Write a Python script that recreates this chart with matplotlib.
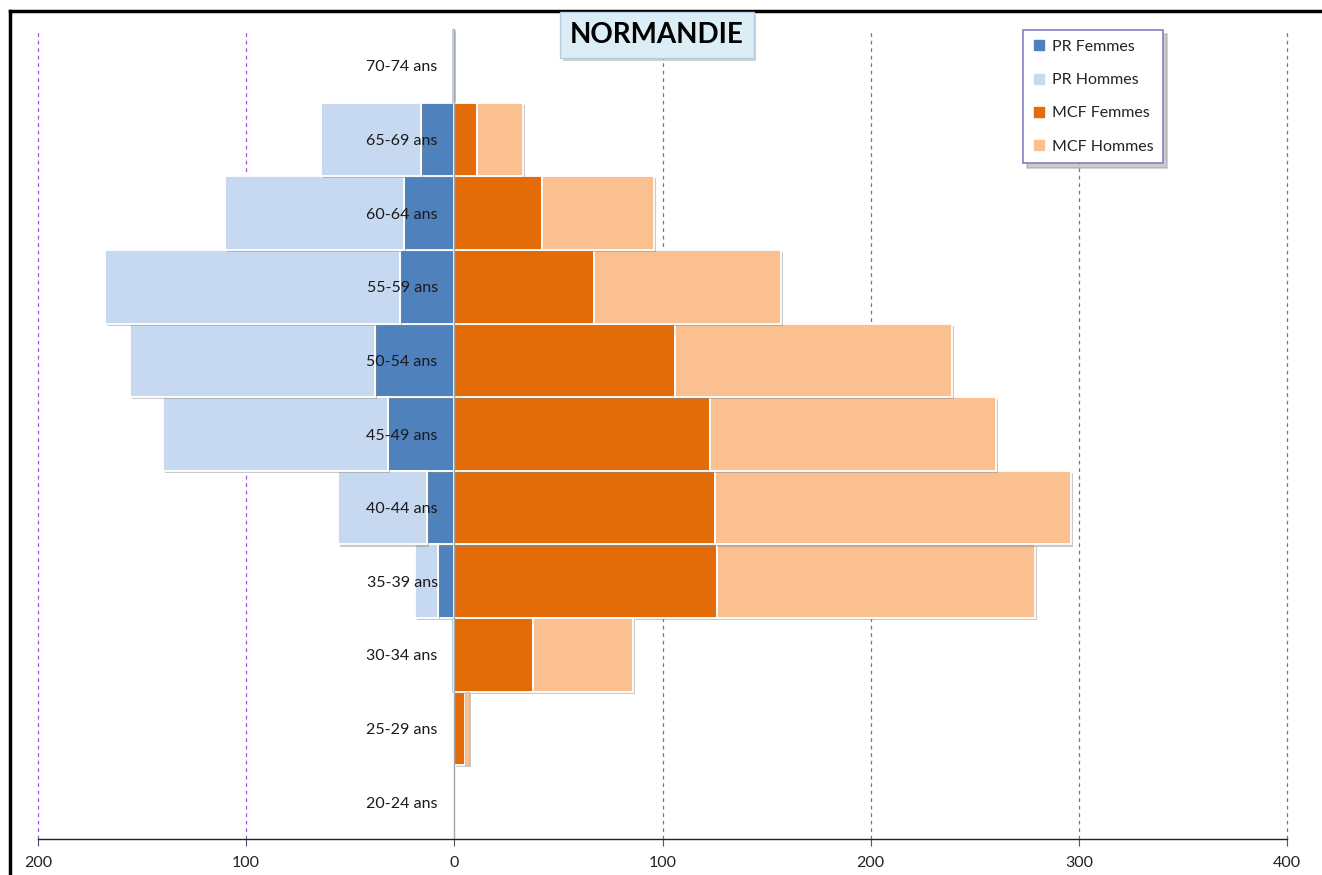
import matplotlib
matplotlib.use("Agg")
import matplotlib.pyplot as plt
import matplotlib.patheffects as pe
from matplotlib.lines import Line2D
from matplotlib.ticker import FuncFormatter

plt.rcParams['font.family'] = ['Lato', 'DejaVu Sans']

# Age groups, bottom to top
ages = ["20-24 ans", "25-29 ans", "30-34 ans", "35-39 ans", "40-44 ans",
        "45-49 ans", "50-54 ans", "55-59 ans", "60-64 ans", "65-69 ans",
        "70-74 ans"]
pr_femmes = [0, 0, 0, 8, 13, 32, 38, 26, 24, 16, 0]
pr_hommes = [0, 0, 1, 11, 43, 108, 118, 142, 86, 48, 1]
mcf_femmes = [0, 5, 38, 126, 125, 123, 106, 67, 42, 11, 0]
mcf_hommes = [0, 2, 48, 153, 171, 137, 133, 90, 54, 22, 0]

x_ticks = [-200, -100, 0, 100, 200, 300, 400]

c_prf, c_prh = "#4F81BD", "#C6D9F1"
c_mcff, c_mcfh = "#E36C09", "#FAC090"

W, H = 1322, 875
fig = plt.figure(figsize=(W / 100, H / 100), dpi=100)
ax = fig.add_axes([38 / W, 1 - 839 / H, (1287 - 38) / W, (839 - 29) / H])

y = list(range(len(ages)))
shadow = [pe.SimplePatchShadow(offset=(1.5, -1.5), shadow_rgbFace="#888888", alpha=0.45),
          pe.Normal()]
common = dict(height=1.0, edgecolor="white", linewidth=1.3, zorder=1)

neg_f = [-v for v in pr_femmes]
neg_h = [-v for v in pr_hommes]
b1 = ax.barh(y, neg_f, color=c_prf, label="PR Femmes", **common)
b2 = ax.barh(y, neg_h, left=neg_f, color=c_prh, label="PR Hommes", **common)
b3 = ax.barh(y, mcf_femmes, color=c_mcff, label="MCF Femmes", **common)
b4 = ax.barh(y, mcf_hommes, left=mcf_femmes, color=c_mcfh, label="MCF Hommes", **common)
for bars in (b1, b2, b3, b4):
    for p in bars:
        w = abs(p.get_width())
        if w == 0:
            p.set_visible(False)
            continue
        if w < 3:
            # very narrow bars keep a thin outline so the fill stays visible
            p.set_linewidth(0.4)
            p.set_edgecolor("#9DB3D0")
        p.set_path_effects(shadow)

ax.set_xlim(-200, 400)
ax.set_ylim(-0.5, len(ages) - 0.5)

# Dashed vertical gridlines behind the bars
for xv in x_ticks:
    if xv != 0:
        ax.axvline(xv, color="#9955DD", linestyle=(0, (3, 3)), linewidth=0.9,
                   zorder=0.5, clip_on=False)

ax.set_xticks(x_ticks)
ax.xaxis.set_major_formatter(FuncFormatter(lambda v, _: f"{abs(int(v))}"))
ax.tick_params(axis="x", direction="out", length=5, color="#555555",
               labelsize=11.5, labelcolor="#222222", pad=7)

# Vertical axis at zero carries the age labels
ax.spines["left"].set_position(("data", 0))
ax.spines["left"].set_color("#A6A6A6")
ax.spines["left"].set_linewidth(1.0)
ax.set_yticks(y)
ax.set_yticklabels(ages)
ax.tick_params(axis="y", length=0, pad=12, labelsize=11.5, labelcolor="#1A1A1A")
for s in ("top", "right"):
    ax.spines[s].set_visible(False)
ax.spines["bottom"].set_color("#222222")
ax.spines["bottom"].set_linewidth(1.0)

# Title box
fig.text(657 / W, 1 - 35 / H, "NORMANDIE", ha="center", va="center",
         fontsize=20, fontweight="bold", color="#000000",
         bbox=dict(boxstyle="square,pad=0.35", facecolor="#DCEEF5",
                   edgecolor="#B8CCE4", linewidth=1.0,
                   path_effects=[pe.SimplePatchShadow(offset=(2, -2), alpha=0.25),
                                 pe.Normal()]),
         zorder=10)

# Legend with square markers
handles = [Line2D([], [], marker="s", linestyle="none", markersize=7,
                  markerfacecolor=c, markeredgecolor=c)
           for c in (c_prf, c_prh, c_mcff, c_mcfh)]
leg = fig.legend(handles, ["PR Femmes", "PR Hommes", "MCF Femmes", "MCF Hommes"],
                 loc="upper left", bbox_to_anchor=(1023 / W, 1 - 30 / H),
                 frameon=True, fancybox=False,
                 shadow={"ox": 3, "oy": -3, "color": "#999999", "alpha": 0.5},
                 fontsize=11.5, handlelength=0.8, handletextpad=0.4,
                 labelspacing=1.2, borderpad=0.6, borderaxespad=0)
leg.get_frame().set_edgecolor("#8E7CC3")
leg.get_frame().set_linewidth(1.2)
for t in leg.get_texts():
    t.set_color("#222222")

# Outer frame edges
fig.add_artist(Line2D([10 / W, 1], [1 - 11 / H, 1 - 11 / H], color="black",
                      linewidth=2.5, transform=fig.transFigure))
fig.add_artist(Line2D([10 / W, 10 / W], [0, 1 - 11 / H], color="black",
                      linewidth=2.5, transform=fig.transFigure))

fig.savefig("out.png", dpi=100, facecolor="white")
